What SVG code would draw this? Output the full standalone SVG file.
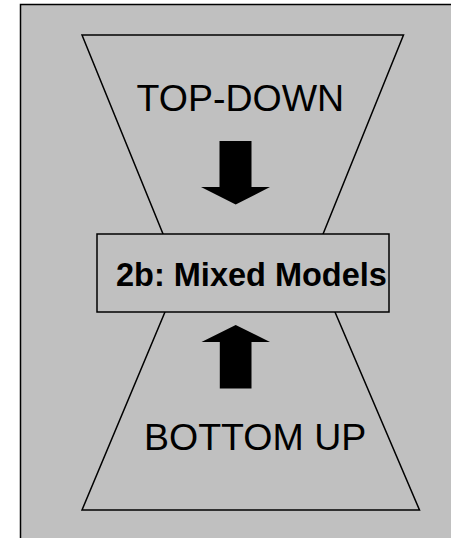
<svg xmlns="http://www.w3.org/2000/svg" width="451" height="538" viewBox="0 0 451 538">
<style>
.shape{fill:#c0c0c0;stroke:#000;stroke-width:1.5}
.arrow{fill:#000;stroke:none}
.lbl{font-family:"Liberation Sans",Arial,sans-serif;fill:#000}
</style>
<rect x="0" y="0" width="451" height="538" fill="#fff"/>
<g id="frame">
<rect x="20.5" y="4.5" width="440" height="540" fill="#c0c0c0" stroke="#000" stroke-width="1.5"/>
</g>
<g id="top-down">
<polygon class="shape" points="82,35 403.5,35 308.5,270 177.7,270"/>
<text class="lbl" x="136.5" y="111" font-size="37.5">TOP-DOWN</text>
</g>
<g id="bottom-up">
<polygon class="shape" points="178.4,280 321.3,280 419.5,510 82,510"/>
<text class="lbl" x="144" y="449.5" font-size="37.5">BOTTOM UP</text>
</g>
<g id="connectors">
<polygon class="arrow" points="219.5,141 251.5,141 251.5,187 270,187 235.7,204.5 201,187 219.5,187"/>
<polygon class="arrow" points="235.7,325 270,342 251.5,342 251.5,388.5 219.8,388.5 219.8,342 201.5,342"/>
</g>
<g id="mixed-models">
<rect class="shape" x="97" y="234" width="292" height="78"/>
<text class="lbl" x="116" y="286" font-size="32.5" font-weight="bold">2b: Mixed Models</text>
</g>
</svg>
